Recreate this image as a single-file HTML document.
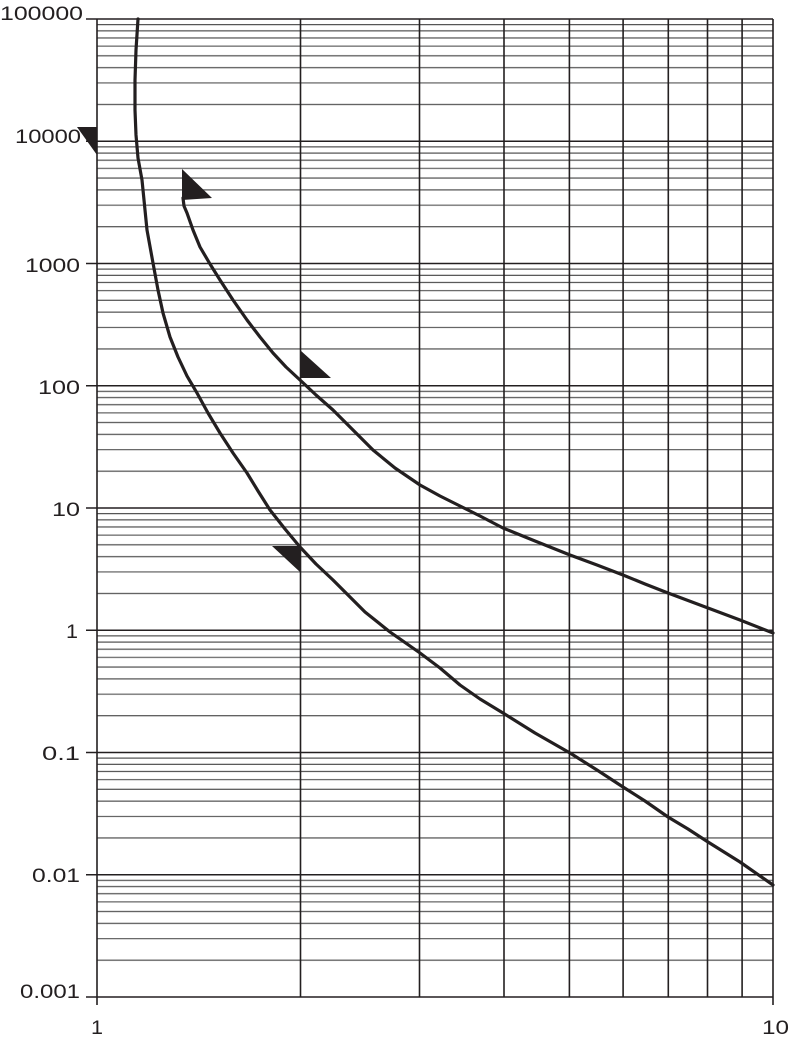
<!DOCTYPE html>
<html><head><meta charset="utf-8"><style>body{margin:0;background:#fff}svg{display:block}</style></head><body>
<svg width="790" height="1042" viewBox="0 0 790 1042" xmlns="http://www.w3.org/2000/svg" font-family="Liberation Sans, sans-serif">
<defs>
<pattern id="dec" patternUnits="userSpaceOnUse" x="97" y="19" width="676" height="122.25">
<g stroke="#555" stroke-width="1.2">
<line x1="0" x2="676" y1="5.59" y2="5.59"/>
<line x1="0" x2="676" y1="11.85" y2="11.85"/>
<line x1="0" x2="676" y1="18.94" y2="18.94"/>
<line x1="0" x2="676" y1="27.12" y2="27.12"/>
<line x1="0" x2="676" y1="36.80" y2="36.80"/>
<line x1="0" x2="676" y1="48.65" y2="48.65"/>
<line x1="0" x2="676" y1="63.92" y2="63.92"/>
<line x1="0" x2="676" y1="85.45" y2="85.45"/>
</g>
</pattern>
</defs>
<rect x="97" y="19" width="676" height="978" fill="url(#dec)"/>
<g stroke="#231f20" stroke-width="1.6">
<line x1="86" x2="773" y1="19" y2="19"/>
<line x1="86" x2="773" y1="141.25" y2="141.25"/>
<line x1="86" x2="773" y1="263.5" y2="263.5"/>
<line x1="86" x2="773" y1="385.75" y2="385.75"/>
<line x1="86" x2="773" y1="508" y2="508"/>
<line x1="86" x2="773" y1="630.25" y2="630.25"/>
<line x1="86" x2="773" y1="752.5" y2="752.5"/>
<line x1="86" x2="773" y1="874.75" y2="874.75"/>
<line x1="86" x2="773" y1="997" y2="997"/>
<line x1="97" x2="97" y1="19" y2="1005"/>
<line x1="300.5" x2="300.5" y1="19" y2="997"/>
<line x1="419.5" x2="419.5" y1="19" y2="997"/>
<line x1="504" x2="504" y1="19" y2="997"/>
<line x1="569.4" x2="569.4" y1="19" y2="997"/>
<line x1="623.1" x2="623.1" y1="19" y2="997"/>
<line x1="668.3" x2="668.3" y1="19" y2="997"/>
<line x1="707.5" x2="707.5" y1="19" y2="997"/>
<line x1="742.1" x2="742.1" y1="19" y2="997"/>
<line x1="773" x2="773" y1="19" y2="1005"/>
</g>
<g fill="#231f20" font-size="19">
<text x="0" y="20" textLength="83" lengthAdjust="spacingAndGlyphs">100000</text>
<text x="15" y="143" textLength="66" lengthAdjust="spacingAndGlyphs">10000</text>
<text x="25" y="272" textLength="55" lengthAdjust="spacingAndGlyphs">1000</text>
<text x="38" y="394" textLength="42" lengthAdjust="spacingAndGlyphs">100</text>
<text x="52" y="516" textLength="28" lengthAdjust="spacingAndGlyphs">10</text>
<text x="66" y="638" textLength="12" lengthAdjust="spacingAndGlyphs">1</text>
<text x="42" y="760" textLength="38" lengthAdjust="spacingAndGlyphs">0.1</text>
<text x="32" y="882" textLength="48" lengthAdjust="spacingAndGlyphs">0.01</text>
<text x="20" y="998" textLength="60" lengthAdjust="spacingAndGlyphs">0.001</text>
<text x="91" y="1034" textLength="12" lengthAdjust="spacingAndGlyphs">1</text>
<text x="762" y="1034" textLength="27" lengthAdjust="spacingAndGlyphs">10</text>
</g>
<g fill="none" stroke="#231f20" stroke-width="3.2" stroke-linecap="round" stroke-linejoin="round">
<polyline points="138,19 136,50 135,80 135,110 136,135 138,158 142,180 147,230 153,263 158,290 163,313 170,337 178,357 187,376 197,393 208,413 220,433 233,453 247,473 258,491 270,510 285,529 300,547 316,564 333,580 343,590 365,612 390,632 420,653 440,668 460,685 480,699 503,713 535,733 570,753 597,770 623,787 645,801 668,817 688,829 708,842 740,862 773,885"/>
<polyline points="183,198 184,206 187,213 193,230 200,247 210,264 220,280 233,300 247,320 260,337 273,353 286,367 300,380 316,395 333,410 353,430 373,450 395,468 420,485 440,496 460,506 480,516 503,528 535,541 570,555 597,565 623,575 645,584 668,593 708,608 740,620 773,633"/>
</g>
<g fill="#231f20">
<polygon points="77,127 97,127 97,155"/>
<polygon points="182,169 182,200 212,198"/>
<polygon points="300,350 300,378 331,378"/>
<polygon points="272,546 300,546 300,572"/>
</g>
</svg>
</body></html>
